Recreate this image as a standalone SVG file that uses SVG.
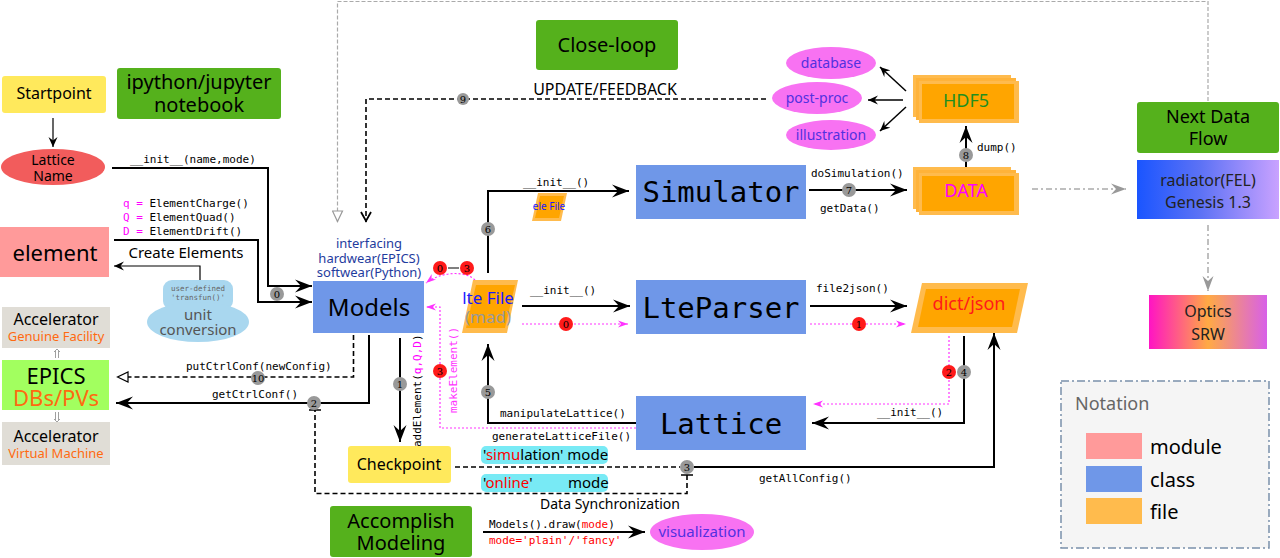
<svg xmlns="http://www.w3.org/2000/svg" width="1280" height="558" viewBox="0 0 1280 558">
<defs>
<style>
.s{font-family:"Noto Sans","Open Sans",sans-serif}
.m{font-family:"DejaVu Sans Mono","Liberation Mono",monospace}
.n{font-family:"DejaVu Serif","Liberation Serif",serif;font-size:10px;text-anchor:middle}
.c{text-anchor:middle}
.ln{fill:none;stroke:#000;stroke-width:2}
.dash{fill:none;stroke:#000;stroke-width:1.6;stroke-dasharray:5,3}
.mg{fill:none;stroke:#ff33ff;stroke-width:1.2;stroke-dasharray:2,2}
.gc{fill:#999}
.rc{fill:#ff1a1a}
.cls{fill:#6f97e8}
.grn{fill:#55b11c}
.mag{fill:#f872f2}
</style>
<marker id="ah" viewBox="-17 -7 18 14" refX="0" refY="0" markerWidth="18" markerHeight="14" orient="auto" markerUnits="userSpaceOnUse"><path d="M0,0 L-17,-6.5 L-11,0 L-17,6.5 Z" fill="#000"/></marker>
<marker id="ahs" viewBox="-10 -5 11 10" refX="0" refY="0" markerWidth="11" markerHeight="10" orient="auto" markerUnits="userSpaceOnUse"><path d="M0,0 L-10,-4.5 L-6.5,0 L-10,4.5 Z" fill="#000"/></marker>
<marker id="ahm" viewBox="-10 -4 11 8" refX="0" refY="0" markerWidth="11" markerHeight="8" orient="auto" markerUnits="userSpaceOnUse"><path d="M0,0 L-10,-3.5 L-7,0 L-10,3.5 Z" fill="#ff33ff"/></marker>
<marker id="ahg" viewBox="-15 -6 16 12" refX="0" refY="0" markerWidth="16" markerHeight="12" orient="auto" markerUnits="userSpaceOnUse"><path d="M0,0 L-15,-5.5 L-10,0 L-15,5.5 Z" fill="#999"/></marker>
<marker id="tri" viewBox="-12 -6 13 12" refX="0" refY="0" markerWidth="13" markerHeight="12" orient="auto" markerUnits="userSpaceOnUse"><path d="M-0.5,0 L-11,-5 L-11,5 Z" fill="#fff" stroke="#000" stroke-width="1.2"/></marker>
<marker id="trig" viewBox="-12 -6 13 12" refX="0" refY="0" markerWidth="13" markerHeight="12" orient="auto" markerUnits="userSpaceOnUse"><path d="M-0.5,0 L-11,-5 L-11,5 Z" fill="#fff" stroke="#999" stroke-width="1.2"/></marker>
<marker id="vee" viewBox="-12 -6 13 12" refX="0" refY="0" markerWidth="13" markerHeight="12" orient="auto" markerUnits="userSpaceOnUse"><path d="M-10,-5 L-1,0 L-10,5" fill="none" stroke="#000" stroke-width="1.8"/></marker>
<linearGradient id="gRad" x1="0" y1="0" x2="1" y2="0"><stop offset="0" stop-color="#1a55ff"/><stop offset="0.45" stop-color="#5d72f5"/><stop offset="1" stop-color="#c9a2ff"/></linearGradient>
<linearGradient id="gOpt" x1="0" y1="0" x2="1" y2="0"><stop offset="0" stop-color="#ff14c4"/><stop offset="0.5" stop-color="#ffaa44"/><stop offset="1" stop-color="#d860e8"/></linearGradient>
</defs>
<rect width="1280" height="558" fill="#fff"/>

<g id="connectors">
<!-- gray loop -->
<path d="M1208,101 V1.5 H337.5 V222" fill="none" stroke="#aaa" stroke-width="1.2" stroke-dasharray="4,2" marker-end="url(#trig)"/>
<!-- update/feedback -->
<path d="M766,99 H366 V222" class="dash" marker-end="url(#vee)"/>
<!-- startpoint -> lattice name -->
<path d="M53,118 V147" fill="none" stroke="#000" stroke-width="1.2" marker-end="url(#ahs)"/>
<!-- init(name,mode) -->
<path d="M112,168 H268 V286 H312" class="ln" marker-end="url(#ah)"/>
<!-- create elements -->
<path d="M114,240 H258 V302 H312" class="ln" marker-end="url(#ah)"/>
<path d="M200,281 V266 H114" fill="none" stroke="#000" stroke-width="1.2" marker-end="url(#ahs)"/>
<path d="M194,281 H206" stroke="#555" stroke-width="2"/>
<!-- putCtrlConf -->
<path d="M353.5,335 V377 H117" class="dash" marker-end="url(#tri)"/>
<!-- getCtrlConf -->
<path d="M369,335 V403 H116" class="ln" marker-end="url(#ah)"/>
<!-- addElement -->
<path d="M400,338 V442" class="ln" marker-end="url(#ah)"/>
<!-- data sync loop -->
<path d="M455,467 H680" class="dash"/>
<path d="M687,475 V493.5 H315 V410" class="dash"/>
<path d="M681,475 H693 M309,410 H321" stroke="#000" stroke-width="1.6"/>
<!-- getAllConfig -->
<path d="M694,467 H994 V333" class="ln" marker-end="url(#ah)"/>
<!-- lte -> simulator -->
<path d="M488,273 V191 H629" class="ln" marker-end="url(#ah)"/>
<!-- lte -> lteparser -->
<path d="M522,306 H630" class="ln" marker-end="url(#ah)"/>
<path d="M522,324 H628" class="mg" marker-end="url(#ahm)"/>
<!-- simulator -> data -->
<path d="M809,190 H907" class="ln" marker-end="url(#ah)"/>
<!-- lteparser -> dict -->
<path d="M810,306 H907" class="ln" marker-end="url(#ah)"/>
<path d="M810,324 H906" class="mg" marker-end="url(#ahm)"/>
<!-- dict -> lattice -->
<path d="M964,336 V423 H812" class="ln" marker-end="url(#ah)"/>
<path d="M949,336 V404 H813" class="mg" marker-end="url(#ahm)"/>
<!-- manipulateLattice -->
<path d="M636,423 H488 V344" class="ln" marker-end="url(#ah)"/>
<!-- generateLatticeFile / makeElement -->
<path d="M636,428 H440 V307 H426" class="mg" marker-end="url(#ahm)"/>
<path d="M475,280 C465,270 440,272 426,283" class="mg" stroke-dasharray="none" marker-end="url(#ahm)"/>
<!-- dump -->
<path d="M966,167 V126" class="ln" marker-end="url(#ah)"/>
<!-- hdf5 outputs -->
<path d="M906,91 L880,67" fill="none" stroke="#000" stroke-width="1.5" marker-end="url(#ahs)"/>
<path d="M903,100 H868" fill="none" stroke="#000" stroke-width="1.5" marker-end="url(#ahs)"/>
<path d="M906,107 L880,131" fill="none" stroke="#000" stroke-width="1.5" marker-end="url(#ahs)"/>
<!-- draw -->
<path d="M483,532 H645" class="ln" marker-end="url(#ah)"/>
<!-- next data flow -->
<path d="M1032,189 H1126" fill="none" stroke="#aaa" stroke-width="1.5" stroke-dasharray="6,3,2,3" marker-end="url(#ahg)"/>
<path d="M1208,225 V291" fill="none" stroke="#aaa" stroke-width="1.5" stroke-dasharray="6,3,2,3" marker-end="url(#ahg)"/>
<!-- accelerator links -->
<g fill="none" stroke="#888" stroke-width="0.8">
<path d="M55.5,351 V358 M58.5,351 V358 M54,352 L57,349 L60,352"/>
<path d="M55.5,412 V420 M58.5,412 V420 M54,419 L57,422 L60,419"/>
</g>
<!-- numbered badges -->
<g>
<circle cx="277" cy="294" r="7" class="gc"/><text x="277" y="298" class="n">0</text>
<circle cx="258" cy="378" r="7" class="gc"/><text x="258" y="382" class="n">10</text>
<circle cx="314" cy="403" r="7" class="gc"/><text x="314" y="407" class="n">2</text>
<circle cx="400" cy="384" r="7" class="gc"/><text x="400" y="388" class="n">1</text>
<circle cx="687" cy="467" r="7" class="gc"/><text x="687" y="471" class="n">3</text>
<circle cx="488" cy="229" r="7" class="gc"/><text x="488" y="233" class="n">6</text>
<circle cx="488" cy="392" r="7" class="gc"/><text x="488" y="396" class="n">5</text>
<circle cx="849" cy="190" r="7" class="gc"/><text x="849" y="194" class="n">7</text>
<circle cx="966" cy="155" r="7" class="gc"/><text x="966" y="159" class="n">8</text>
<circle cx="964" cy="372" r="7" class="gc"/><text x="964" y="376" class="n">4</text>
<circle cx="463" cy="99" r="6" class="gc"/><text x="463" y="103" class="n">9</text>
<circle cx="566" cy="324" r="7" class="rc"/><text x="566" y="328" class="n">0</text>
<circle cx="859" cy="324" r="7" class="rc"/><text x="859" y="328" class="n">1</text>
<circle cx="949" cy="372" r="7" class="rc"/><text x="949" y="376" class="n">2</text>
<circle cx="440" cy="371" r="7" class="rc"/><text x="440" y="375" class="n">3</text>
<circle cx="440" cy="268" r="7" class="rc"/><text x="440" y="272" class="n">0</text>
<path d="M448,268 H459" stroke="#000" stroke-width="1"/>
<circle cx="467" cy="268" r="7" class="rc"/><text x="467" y="272" class="n">3</text>
</g>
<!-- connector labels -->
<g class="m" font-size="11">
<text x="130" y="163">__init__(name,mode)</text>
<text x="123" y="207"><tspan fill="#ff00ff">q =</tspan> ElementCharge()</text>
<text x="123" y="221"><tspan fill="#ff00ff">Q =</tspan> ElementQuad()</text>
<text x="123" y="235"><tspan fill="#ff00ff">D =</tspan> ElementDrift()</text>
<text x="186" y="370">putCtrlConf(newConfig)</text>
<text x="212" y="398">getCtrlConf()</text>
<text transform="translate(421,447) rotate(-90)">addElement(<tspan fill="#ff00ff">q,Q,D</tspan>)</text>
<text transform="translate(457,413) rotate(-90)" fill="#ff33ff">makeElement()</text>
<text x="523" y="186">__init__()</text>
<text x="530" y="294">__init__()</text>
<text x="811" y="177">doSimulation()</text>
<text x="820" y="212">getData()</text>
<text x="816" y="292">file2json()</text>
<text x="977" y="151">dump()</text>
<text x="877" y="416">__init__()</text>
<text x="500" y="417">manipulateLattice()</text>
<text x="492" y="440">generateLatticeFile()</text>
<text x="759" y="482">getAllConfig()</text>
<text x="489" y="528">Models().draw(<tspan fill="#ff0000">mode</tspan>)</text>
<text x="489" y="544" fill="#ff0000">mode='plain'/'fancy'</text>
</g>
<g class="s">
<text x="186" y="258" class="c" font-size="15">Create Elements</text>
<text x="605" y="95" class="c" font-size="16">UPDATE/FEEDBACK</text>
<text x="610" y="509" class="c" font-size="14">Data Synchronization</text>
</g>
</g>

<g id="startpoint"><rect x="2" y="76" width="104" height="37" rx="3" fill="#ffe95c"/><text x="54" y="99" class="s c" font-size="16">Startpoint</text></g>
<g id="ipython"><rect x="117" y="68" width="164" height="51" rx="3" class="grn"/><text x="199" y="89" class="s c" font-size="20">ipython/jupyter</text><text x="199" y="112" class="s c" font-size="20">notebook</text></g>
<g id="lattice-name"><ellipse cx="53" cy="167" rx="52" ry="18" fill="#f25c5c"/><text x="53" y="165" class="s c" font-size="14">Lattice</text><text x="53" y="181" class="s c" font-size="14">Name</text></g>
<g id="element"><rect x="0" y="227" width="109" height="50" fill="#ff9a9a"/><text x="55" y="261" class="s c" font-size="22">element</text></g>
<g id="unit-conversion">
<rect x="163" y="280" width="70" height="30" rx="9" fill="#a9d7ef"/>
<ellipse cx="198" cy="322" rx="51" ry="20" fill="#a9d7ef"/>
<text x="198" y="291" class="m c" font-size="7.5" fill="#666">user-defined</text>
<text x="198" y="300" class="m c" font-size="7.5" fill="#666">'transfun()'</text>
<text x="198" y="320" class="s c" font-size="15" fill="#555">unit</text>
<text x="198" y="335" class="s c" font-size="15" fill="#555">conversion</text>
</g>
<g id="acc-genuine"><rect x="2" y="307" width="108" height="41" fill="#e0ddd6"/><text x="56" y="325" class="s c" font-size="16">Accelerator</text><text x="56" y="341" class="s c" font-size="13" fill="#ff6a10">Genuine Facility</text></g>
<g id="epics"><rect x="2" y="360" width="107" height="50" fill="#a2ff5f"/><text x="56" y="384" class="s c" font-size="22">EPICS</text><text x="56" y="406" class="s c" font-size="22" fill="#ff6a10">DBs/PVs</text></g>
<g id="acc-virtual"><rect x="2" y="422" width="108" height="43" fill="#e0ddd6"/><text x="56" y="442" class="s c" font-size="16">Accelerator</text><text x="56" y="458" class="s c" font-size="13" fill="#ff6a10">Virtual Machine</text></g>
<g id="models">
<text x="369" y="248" class="s c" font-size="13" fill="#1f3c9e">interfacing</text>
<text x="369" y="263" class="s c" font-size="13" fill="#1f3c9e">hardwear(EPICS)</text>
<text x="369" y="277" class="s c" font-size="13" fill="#1f3c9e">softwear(Python)</text>
<rect x="313" y="281" width="111" height="52" class="cls"/><text x="369" y="316" class="s c" font-size="24">Models</text></g>
<g id="checkpoint"><rect x="348" y="446" width="103" height="37" rx="3" fill="#ffe95c"/><text x="399" y="470" class="s c" font-size="16">Checkpoint</text></g>
<g id="modes">
<rect x="481" y="446" width="127" height="18" rx="5" fill="#78eaf5"/>
<text x="483" y="460" class="s" font-size="15">'<tspan fill="#ff0000">simu</tspan>lation' mode</text>
<rect x="481" y="474" width="127" height="18" rx="5" fill="#78eaf5"/>
<text x="483" y="488" class="s" font-size="15">'<tspan fill="#ff0000">online</tspan>'</text>
<text x="568" y="488" class="s" font-size="15">mode</text>
</g>
<g id="accomplish"><rect x="330" y="506" width="142" height="51" rx="3" class="grn"/><text x="401" y="528" class="s c" font-size="20">Accomplish</text><text x="401" y="550" class="s c" font-size="20">Modeling</text></g>
<g id="visualization"><ellipse cx="702" cy="532" rx="52" ry="18" class="mag"/><text x="702" y="537" class="s c" font-size="15" fill="#5230e0">visualization</text></g>
<g id="close-loop"><rect x="536" y="20" width="142" height="50" rx="3" class="grn"/><text x="607" y="52" class="s c" font-size="20">Close-loop</text></g>
<g id="database"><ellipse cx="831" cy="63" rx="45" ry="16" class="mag"/><text x="831" y="68" class="s c" font-size="14" fill="#5230e0">database</text></g>
<g id="post-proc"><ellipse cx="817" cy="98" rx="45" ry="16" class="mag"/><text x="817" y="103" class="s c" font-size="14" fill="#5230e0">post-proc</text></g>
<g id="illustration"><ellipse cx="831" cy="135" rx="45" ry="15" class="mag"/><text x="831" y="140" class="s c" font-size="14" fill="#5230e0">illustration</text></g>
<g id="hdf5"><rect x="913" y="75" width="98" height="42" fill="#ffbb4d"/><rect x="916" y="78" width="100" height="42" fill="#ffb33a"/><rect x="919" y="81" width="100" height="42" fill="#ffbb4d"/><rect x="922" y="84" width="92" height="35" fill="#ffa500"/><text x="966" y="107" class="s c" font-size="18" fill="#1f8f1f">HDF5</text></g>
<g id="data"><rect x="913" y="167" width="98" height="42" fill="#ffbb4d"/><rect x="916" y="170" width="100" height="42" fill="#ffb33a"/><rect x="919" y="173" width="100" height="42" fill="#ffbb4d"/><rect x="922" y="176" width="92" height="35" fill="#ffa500"/><text x="966" y="197" class="s c" font-size="18" fill="#ff00ff">DATA</text></g>
<g id="simulator"><rect x="636" y="165" width="170" height="54" class="cls"/><text x="721" y="202" class="m c" font-size="29">Simulator</text></g>
<g id="lteparser"><rect x="636" y="280" width="170" height="54" class="cls"/><text x="721" y="318" class="m c" font-size="29">LteParser</text></g>
<g id="lattice"><rect x="636" y="396" width="170" height="54" class="cls"/><text x="721" y="434" class="m c" font-size="29">Lattice</text></g>
<g id="dict-json"><path d="M922,283 H1028 L1017,333 H911 Z" fill="#ffbb4d"/><path d="M926,289 H1020 L1012,327 H918 Z" fill="#ffa500"/><text x="969" y="310" class="s c" font-size="18" fill="#ff1a1a">dict/json</text></g>
<g id="lte-file"><path d="M473,280 H518 L507,333 H462 Z" fill="#ffbb4d"/><path d="M476,285 H515 L505,328 H466 Z" fill="#ffa500"/><text x="488" y="304" class="s c" font-size="17" fill="#1a1aff">lte File</text><text x="488" y="323" class="s c" font-size="17" fill="#999">(mad)</text></g>
<g id="ele-file"><path d="M538,193 H567 L561,221 H532 Z" fill="#ffbb4d"/><path d="M540,196 H564 L559,218 H535 Z" fill="#ffa500"/><text x="549" y="210" class="s c" font-size="10" fill="#1a1aff">ele File</text></g>
<g id="next-data-flow"><rect x="1137" y="102" width="142" height="51" rx="3" class="grn"/><text x="1208" y="123" class="s c" font-size="18">Next Data</text><text x="1208" y="145" class="s c" font-size="18">Flow</text></g>
<g id="radiator"><rect x="1137" y="160" width="142" height="59" fill="url(#gRad)"/><text x="1208" y="186" class="s c" font-size="16" fill="#222">radiator(FEL)</text><text x="1208" y="208" class="s c" font-size="16" fill="#222">Genesis 1.3</text></g>
<g id="optics"><rect x="1149" y="295" width="118" height="54" fill="url(#gOpt)"/><text x="1208" y="317" class="s c" font-size="16" fill="#222">Optics</text><text x="1208" y="340" class="s c" font-size="16" fill="#222">SRW</text></g>
<g id="notation">
<rect x="1061" y="381" width="208" height="167" fill="#f5f5f5" stroke="#7a90aa" stroke-width="1.5" stroke-dasharray="8,3,2,3"/>
<text x="1075" y="410" class="s" font-size="18" fill="#666">Notation</text>
<rect x="1086" y="433" width="56" height="26" fill="#ff9a9a"/><text x="1150" y="454" class="s" font-size="20">module</text>
<rect x="1086" y="466" width="56" height="26" fill="#6f97e8"/><text x="1150" y="487" class="s" font-size="20">class</text>
<rect x="1086" y="498" width="56" height="26" fill="#ffbb4d"/><text x="1150" y="519" class="s" font-size="20">file</text>
</g>
</svg>
